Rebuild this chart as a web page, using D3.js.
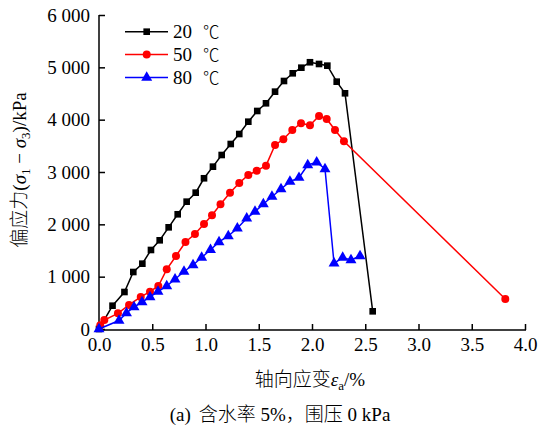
<!DOCTYPE html>
<html><head><meta charset="utf-8">
<script src="https://cdn.jsdelivr.net/npm/d3@7"></script>
<style>body{margin:0;background:#fff}svg{display:block}</style>
</head><body><svg id="c" width="542" height="427"></svg>
<script>
const xTicks = [0,0.5,1,1.5,2,2.5,3,3.5,4];
const yTicks = [0,1000,2000,3000,4000,5000,6000];
const seriesNames = ["20 ℃","50 ℃","80 ℃"];
const strain20 = [0,0.127,0.239,0.322,0.407,0.488,0.570,0.654,0.739,0.823,0.908,0.986,1.070,1.152,1.237,1.317,1.402,1.486,1.568,1.653,1.737,1.819,1.900,1.981,2.066,2.144,2.232,2.310,2.570];
const stress20 = [0,445,707,1089,1248,1510,1695,1943,2192,2433,2605,2880,3102,3325,3535,3726,3961,4166,4313,4535,4739,4886,4993,5097,5064,5032,4726,4504,338];
const strain50 = [0.012,0.050,0.178,0.282,0.392,0.479,0.557,0.636,0.723,0.812,0.901,0.986,1.061,1.141,1.230,1.317,1.402,1.481,1.568,1.653,1.731,1.815,1.897,1.981,2.066,2.138,2.216,2.300,3.815];
const stress50 = [70,172,300,459,612,713,822,1141,1395,1662,1815,2006,2173,2383,2605,2790,2943,3025,3121,3516,3625,3803,3931,3893,4070,4013,3803,3587,573];
const strain80 = [0,0.188,0.258,0.329,0.404,0.479,0.554,0.636,0.714,0.798,0.883,0.964,1.047,1.127,1.214,1.299,1.387,1.465,1.543,1.624,1.709,1.793,1.878,1.960,2.044,2.122,2.207,2.288,2.366,2.451];
const stress80 = [0,162,306,420,516,612,713,822,950,1099,1223,1366,1515,1663,1777,1924,2115,2242,2389,2528,2675,2815,2891,3134,3186,3058,1255,1363,1319,1395];

const SERIF = "Liberation Serif";
const CJK = "Noto Sans CJK SC";
const svg = d3.select("#c");
const x = d3.scaleLinear().domain([0,4]).range([99,525]);
const y = d3.scaleLinear().domain([0,6000]).range([329,15]);
const loc = d3.formatLocale({decimal:".",thousands:" ",grouping:[3],currency:["",""]});
const fy = loc.format(",");

const gx = svg.append("g").attr("transform","translate(0,330)")
  .call(d3.axisBottom(x).tickValues(xTicks).tickFormat(d3.format(".1f")).tickSizeInner(-6).tickSizeOuter(0).tickPadding(8));
const gy = svg.append("g").attr("transform","translate(99,0)")
  .call(d3.axisLeft(y).tickValues(yTicks).tickFormat(fy).tickSizeInner(-6).tickSizeOuter(0).tickPadding(9));
[gx,gy].forEach(g=>{
  g.attr("font-family",SERIF).attr("font-size",19);
  g.selectAll("path,line").attr("stroke","#000").attr("stroke-width",1.5);
  g.selectAll("text").attr("fill","#000");
});
gx.select(".domain").attr("d","M99,0H526");
gy.select(".domain").attr("d","M0,15V330.75");

const defs = [
  {sx:strain20, sy:stress20, color:"#000000", sym:d3.symbolSquare, size:44},
  {sx:strain50, sy:stress50, color:"#ff0000", sym:d3.symbolCircle, size:50},
  {sx:strain80, sy:stress80, color:"#0000ff", sym:d3.symbolTriangle, size:52}
];
const line = d3.line().x(d=>x(d[0])).y(d=>y(d[1]));
defs.forEach(s=>{
  const pts = s.sx.map((v,i)=>[v,s.sy[i]]);
  svg.append("path").datum(pts).attr("d",line).attr("fill","none").attr("stroke",s.color).attr("stroke-width",1.5);
  svg.append("g").selectAll("path").data(pts).join("path")
    .attr("d",d3.symbol().type(s.sym).size(s.size))
    .attr("transform",d=>`translate(${x(d[0])},${y(d[1])})`)
    .attr("fill",s.color);
});

// legend
const rows = [31.7,54.5,77.5];
defs.forEach((s,i)=>{
  const g = svg.append("g").attr("transform",`translate(0,${rows[i]})`);
  g.append("line").attr("x1",125).attr("x2",168).attr("stroke",s.color).attr("stroke-width",1.5);
  g.append("path").attr("d",d3.symbol().type(s.sym).size(s.size)).attr("transform","translate(146.7,0)").attr("fill",s.color);
  const parts = seriesNames[i].split(" ");
  g.append("text").attr("x",173).attr("y",6.5).attr("font-family",SERIF).attr("font-size",19).text(parts[0]);
  g.append("text").attr("x",203).attr("y",6).attr("font-size",16.5).attr("font-family",CJK).attr("font-weight",300).text(parts[1]);
});

// x axis title
const xt = svg.append("text").attr("x",310).attr("y",386).attr("text-anchor","middle").attr("font-family",SERIF).attr("font-size",19);
xt.append("tspan").attr("font-family",CJK).attr("font-weight",300).text("轴向应变");
xt.append("tspan").attr("font-style","italic").text("ε");
xt.append("tspan").attr("font-size",13).attr("dy",4).text("a");
xt.append("tspan").attr("dy",-4).text("/%");

// y axis title
const yt = svg.append("text").attr("transform","translate(26,170) rotate(-90)").attr("text-anchor","middle").attr("font-family",SERIF).attr("font-size",19);
yt.append("tspan").attr("font-family",CJK).attr("font-weight",300).text("偏应力");
yt.append("tspan").text("(");
yt.append("tspan").attr("font-style","italic").text("σ");
yt.append("tspan").attr("font-size",13).attr("dy",4).text("1");
yt.append("tspan").attr("dy",-4).text(" − ");
yt.append("tspan").attr("font-style","italic").text("σ");
yt.append("tspan").attr("font-size",13).attr("dy",4).text("3");
yt.append("tspan").attr("dy",-4).text(")/kPa");

// caption
const cap = svg.append("text").attr("x",280).attr("y",421).attr("text-anchor","middle").attr("font-family",SERIF).attr("font-size",19);
cap.append("tspan").text("(a)");
cap.append("tspan").attr("dx",8).attr("font-family",CJK).attr("font-weight",300).text("含水率");
cap.append("tspan").text(" 5%");
cap.append("tspan").attr("font-family",CJK).attr("font-weight",300).text("，围压");
cap.append("tspan").text(" 0 kPa");
</script></body></html>
